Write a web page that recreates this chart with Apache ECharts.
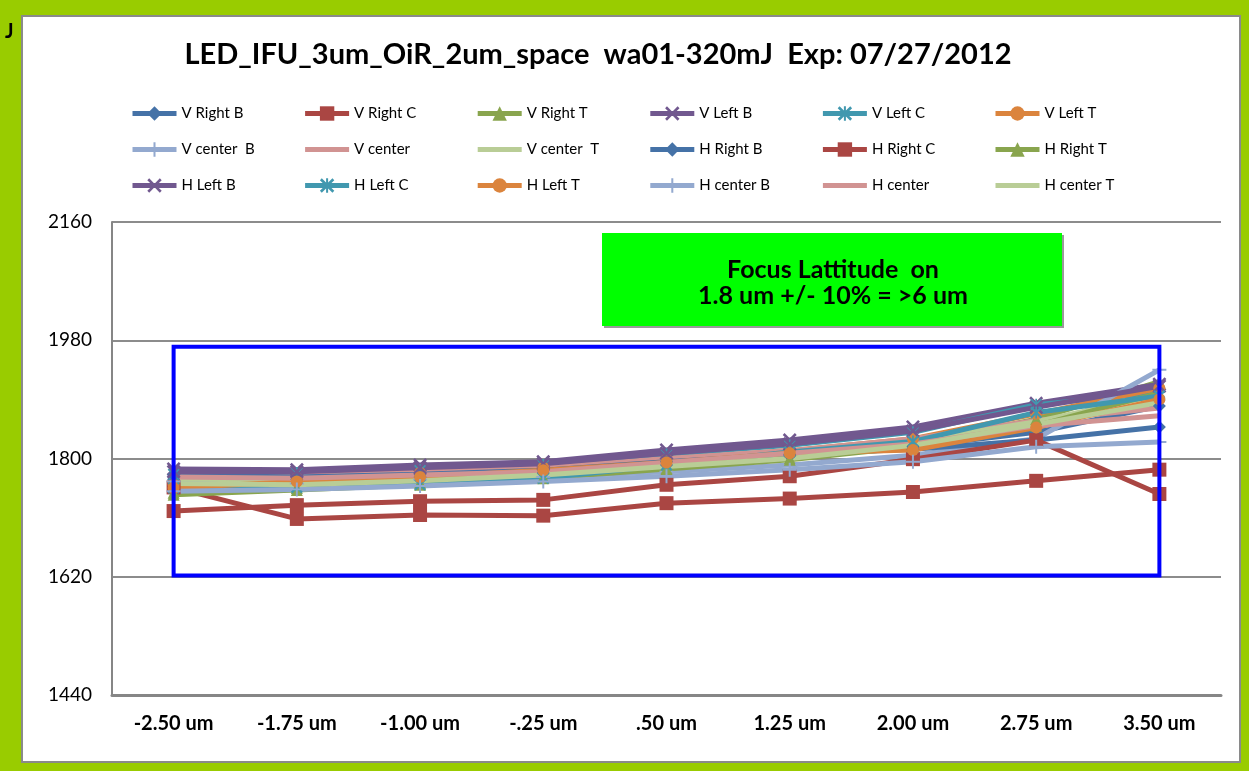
<!DOCTYPE html>
<html>
<head>
<meta charset="utf-8">
<script src="https://cdn.jsdelivr.net/npm/echarts@6/dist/echarts.min.js"></script>
<style>
  html, body { margin: 0; padding: 0; background: #99CC00; }
  #chart { width: 1249px; height: 771px; }
</style>
</head>
<body>
<div id="chart"></div>
<script>
// Focus positions along the x axis
const categories = ['-2.50 um', '-1.75 um', '-1.00 um', '-.25 um', '.50 um', '1.25 um', '2.00 um', '2.75 um', '3.50 um'];

// Y axis range and tick step
const yMin = 1440;
const yMax = 2160;
const yStep = 180;

// Measured values per field position
const vRightB  = [1768, 1768, 1772, 1778, 1790, 1804, 1818, 1840, 1880];
const vRightC  = [1756, 1708, 1714, 1713, 1732, 1739, 1749, 1766, 1783];
const vRightT  = [1748, 1755, 1763, 1772, 1786, 1800, 1822, 1860, 1917];
const vLeftB   = [1784, 1783, 1790, 1795, 1813, 1828, 1848, 1884, 1913];
const vLeftC   = [1776, 1778, 1782, 1790, 1806, 1820, 1840, 1882, 1900];
const vLeftT   = [1760, 1770, 1778, 1786, 1798, 1812, 1830, 1868, 1907];
const vCenterB = [1765, 1762, 1768, 1772, 1780, 1790, 1805, 1830, 1935];
const vCenter  = [1778, 1776, 1780, 1786, 1800, 1812, 1830, 1858, 1877];
const vCenterT = [1770, 1765, 1770, 1778, 1792, 1806, 1826, 1856, 1897];
const hRightB  = [1775, 1772, 1776, 1782, 1795, 1806, 1814, 1828, 1848];
const hRightC  = [1720, 1729, 1735, 1737, 1760, 1773, 1799, 1828, 1746];
const hRightT  = [1745, 1752, 1760, 1770, 1784, 1798, 1818, 1850, 1900];
const hLeftB   = [1780, 1780, 1786, 1792, 1808, 1822, 1842, 1878, 1910];
const hLeftC   = [1755, 1756, 1760, 1770, 1790, 1810, 1826, 1870, 1895];
const hLeftT   = [1755, 1765, 1772, 1782, 1794, 1808, 1813, 1847, 1890];
const hCenterB = [1750, 1753, 1758, 1765, 1773, 1783, 1795, 1818, 1825];
const hCenter  = [1772, 1770, 1775, 1780, 1794, 1808, 1822, 1850, 1865];
const hCenterT = [1762, 1760, 1766, 1775, 1788, 1800, 1820, 1852, 1885];

// Focus tolerance window (first/last position, lower/upper value)
const windowX = ['-2.50 um', '3.50 um'];
const windowY = [1622, 1970];

const titleText = 'LED_IFU_3um_OiR_2um_space  wa01-320mJ  Exp: 07/27/2012';
const noteLines = ['Focus Lattitude  on', '1.8 um +/- 10% = >6 um'];

// Marker shapes
const SYM_X = 'path://M0,1.3 L1.3,0 L5,3.7 L8.7,0 L10,1.3 L6.3,5 L10,8.7 L8.7,10 L5,6.3 L1.3,10 L0,8.7 L3.7,5 Z';
const SYM_STAR = 'path://M0,1.3 L1.3,0 L4.3,3 L4.3,0 L5.7,0 L5.7,3 L8.7,0 L10,1.3 L6.3,5 L10,8.7 L8.7,10 L5.7,7 L5.7,10 L4.3,10 L4.3,7 L1.3,10 L0,8.7 L3.7,5 Z';
const SYM_PLUS = 'path://M4.3,0 L5.7,0 L5.7,4.3 L10,4.3 L10,5.7 L5.7,5.7 L5.7,10 L4.3,10 L4.3,5.7 L0,5.7 L0,4.3 L4.3,4.3 Z';

const FONT = 'Lato, "Open Sans", sans-serif';

const seriesDefs = [
  { name: 'V Right B',  data: vRightB,  color: '#4572A7', symbol: 'diamond',  size: 13 },
  { name: 'V Right C',  data: vRightC,  color: '#AA4643', symbol: 'rect',     size: 14 },
  { name: 'V Right T',  data: vRightT,  color: '#89A54E', symbol: 'triangle', size: 12 },
  { name: 'V Left B',   data: vLeftB,   color: '#71588F', symbol: SYM_X,      size: 14 },
  { name: 'V Left C',   data: vLeftC,   color: '#4198AF', symbol: SYM_STAR,   size: 12 },
  { name: 'V Left T',   data: vLeftT,   color: '#DB843D', symbol: 'circle',   size: 12 },
  { name: 'V center  B', data: vCenterB, color: '#93A9CF', symbol: SYM_PLUS,  size: 14 },
  { name: 'V center',   data: vCenter,  color: '#D19392', symbol: 'none',     size: 0 },
  { name: 'V center  T', data: vCenterT, color: '#B9CD96', symbol: 'none',    size: 0 },
  { name: 'H Right B',  data: hRightB,  color: '#4572A7', symbol: 'diamond',  size: 13 },
  { name: 'H Right C',  data: hRightC,  color: '#AA4643', symbol: 'rect',     size: 14 },
  { name: 'H Right T',  data: hRightT,  color: '#89A54E', symbol: 'triangle', size: 12 },
  { name: 'H Left B',   data: hLeftB,   color: '#71588F', symbol: SYM_X,      size: 14 },
  { name: 'H Left C',   data: hLeftC,   color: '#4198AF', symbol: SYM_STAR,   size: 12 },
  { name: 'H Left T',   data: hLeftT,   color: '#DB843D', symbol: 'circle',   size: 12 },
  { name: 'H center B', data: hCenterB, color: '#93A9CF', symbol: SYM_PLUS,   size: 14 },
  { name: 'H center',   data: hCenter,  color: '#D19392', symbol: 'none',     size: 0 },
  { name: 'H center T', data: hCenterT, color: '#B9CD96', symbol: 'none',     size: 0 }
];

const series = seriesDefs.map(s => ({
  name: s.name,
  type: 'line',
  data: s.data,
  symbol: s.symbol,
  symbolSize: s.size,
  showSymbol: s.symbol !== 'none',
  color: s.color,
  lineStyle: { width: 5, color: s.color },
  itemStyle: { color: s.color },
  emphasis: { disabled: true },
  z: 3
}));

// Tolerance window outline, drawn on the category/value axes
series.push({
  name: 'window',
  type: 'line',
  data: [
    [windowX[0], windowY[1]],
    [windowX[1], windowY[1]],
    [windowX[1], windowY[0]],
    [windowX[0], windowY[0]],
    [windowX[0], windowY[1]]
  ],
  symbol: 'none',
  lineStyle: { width: 4, color: '#0000FF', cap: 'square', join: 'miter' },
  itemStyle: { color: '#0000FF' },
  emphasis: { disabled: true },
  silent: true,
  z: 10
});

// Legend laid out as a 6-column grid, one component per entry
const LEGEND_COLS = 6;
const legends = seriesDefs.map((s, i) => ({
  data: [s.symbol === 'none' ? { name: s.name, itemStyle: { opacity: 0 } } : { name: s.name }],
  left: 130 + (i % LEGEND_COLS) * 172.6,
  top: 106 + Math.floor(i / LEGEND_COLS) * 36,
  padding: 0,
  orient: 'horizontal',
  itemWidth: 44,
  itemHeight: 18,
  itemGap: 0,
  selectedMode: false,
  lineStyle: { width: 5 },
  textStyle: { fontFamily: FONT, fontSize: 15, color: '#000' }
}));

const chart = echarts.init(document.getElementById('chart'), null, { renderer: 'canvas' });
chart.setOption({
  animation: false,
  backgroundColor: 'transparent',
  title: {
    text: titleText,
    left: 593,
    textAlign: 'center',
    top: 35,
    textStyle: { fontFamily: FONT, fontSize: 29, fontWeight: 'bold', color: '#000' }
  },
  legend: legends,
  grid: { left: 112, right: 28, top: 222, bottom: 76, containLabel: false },
  xAxis: {
    type: 'category',
    data: categories,
    boundaryGap: true,
    axisLine: { show: true, lineStyle: { color: '#868686', width: 3 } },
    axisTick: { show: false },
    axisLabel: { fontFamily: FONT, fontSize: 20, fontWeight: 'bold', color: '#000', margin: 19 },
    splitLine: { show: false }
  },
  yAxis: {
    type: 'value',
    min: yMin,
    max: yMax,
    interval: yStep,
    axisLine: { show: true, lineStyle: { color: '#868686', width: 2 } },
    axisTick: { show: false },
    axisLabel: { fontFamily: FONT, fontSize: 19, color: '#000', margin: 20, formatter: v => String(v) },
    splitLine: { show: true, lineStyle: { color: '#8C8C8C', width: 2 } }
  },
  graphic: [
    {
      type: 'rect',
      z: -10,
      shape: { x: 22, y: 16, width: 1218, height: 746 },
      style: { fill: '#FFFFFF', stroke: '#8A8A8A', lineWidth: 2 }
    },
    {
      type: 'text',
      z: 5,
      left: 5,
      top: 22,
      style: { text: 'J', fontFamily: FONT, fontSize: 20, fontWeight: 'bold', fill: '#000' }
    },
    {
      type: 'rect',
      z: 5,
      shape: { x: 604, y: 235, width: 460, height: 93 },
      style: { fill: '#9A9A9A' }
    },
    {
      type: 'rect',
      z: 6,
      shape: { x: 602, y: 233, width: 460, height: 93 },
      style: { fill: '#00FF00' }
    },
    {
      type: 'text',
      z: 7,
      x: 833,
      y: 270,
      style: { text: noteLines[0], fontFamily: FONT, fontSize: 25, fontWeight: 'bold', fill: '#000', align: 'center', verticalAlign: 'middle' }
    },
    {
      type: 'text',
      z: 7,
      x: 833,
      y: 296,
      style: { text: noteLines[1], fontFamily: FONT, fontSize: 25, fontWeight: 'bold', fill: '#000', align: 'center', verticalAlign: 'middle' }
    }
  ],
  series: series
});
</script>
</body>
</html>
